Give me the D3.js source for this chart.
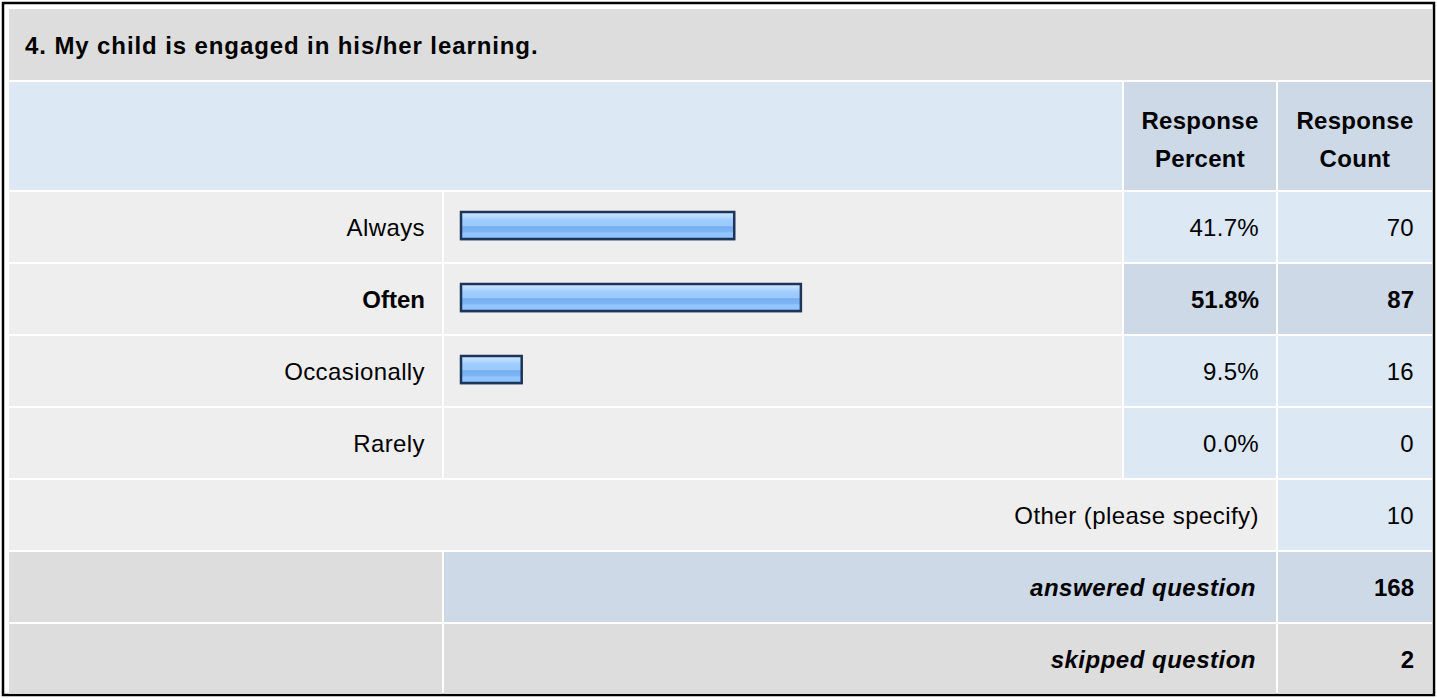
<!DOCTYPE html>
<html>
<head>
<meta charset="utf-8">
<script src="https://cdn.jsdelivr.net/npm/d3@7"></script>
<style>
  html, body { margin: 0; padding: 0; background: #ffffff; }
  svg { display: block; }
  text { font-family: "Liberation Sans", Arial, Helvetica, sans-serif; fill: #000; }
</style>
</head>
<body>
<div id="chart"></div>
<script>
// ---- data ----
const title = "4. My child is engaged in his/her learning.";
const headerPercent = ["Response", "Percent"];
const headerCount = ["Response", "Count"];
const categories = ["Always", "Often", "Occasionally", "Rarely"];
const percents = [41.7, 51.8, 9.5, 0.0];
const counts = [70, 87, 16, 0];
const highlighted = ["Often"];
const otherLabel = "Other (please specify)";
const otherCount = 10;
const answeredLabel = "answered question";
const answeredCount = 168;
const skippedLabel = "skipped question";
const skippedCount = 2;

// ---- layout ----
const W = 1437, H = 698;
const svg = d3.select("#chart").append("svg").attr("width", W).attr("height", H);

const colLabel = [9, 442], colBar = [444, 1122], colPct = [1124, 1276], colCnt = [1278, 1432];
const C_TITLE = "#dddddd", C_HEAD = "#dde8f5", C_HEAD2 = "#cdd9e6", C_ROW = "#eeeeee",
      C_CELL = "#dde8f5", C_CELL2 = "#cdd9e6", C_GREY = "#dddddd";

const rowKeys = categories.concat(["other", "answered", "skipped"]);
const y = d3.scaleBand().domain(rowKeys).range([192, 192 + rowKeys.length * 72 - 2]).paddingInner(2 / 72).paddingOuter(0);
const x = d3.scaleLinear().domain([0, 100]).range([0, 660]);

// gradient for bars
const defs = svg.append("defs");
const grad = defs.append("linearGradient").attr("id", "barGrad").attr("x1", 0).attr("y1", 0).attr("x2", 0).attr("y2", 1);
[[0, "#d2e8ff"], [0.18, "#b5d9ff"], [0.3, "#9fcdff"], [0.5, "#99c9ff"], [0.55, "#78aef0"], [0.72, "#7db5f5"], [0.78, "#92c6ff"], [1, "#8ec3ff"]]
  .forEach(([o, c]) => grad.append("stop").attr("offset", o).attr("stop-color", c));

function cell(x0, x1, y0, h, fill) {
  svg.append("rect").attr("x", x0).attr("y", y0).attr("width", x1 - x0).attr("height", h).attr("fill", fill);
}
function txt(s, xx, yy, anchor, opts = {}) {
  return svg.append("text").attr("x", xx).attr("y", yy).attr("text-anchor", anchor)
    .attr("font-size", opts.size || 24)
    .attr("font-weight", opts.bold ? "bold" : "normal")
    .attr("font-style", opts.italic ? "italic" : "normal")
    .style("letter-spacing", (opts.ls != null ? opts.ls : 0.45) + "px")
    .text(s);
}

// outer border
svg.append("rect").attr("x", 3).attr("y", 3).attr("width", 1431).attr("height", 692)
  .attr("fill", "#ffffff").attr("stroke", "#000").attr("stroke-width", 2.5);

// title row
cell(9, 1432, 9, 71, C_TITLE);
txt(title, 25, 54, "start", { bold: true, ls: 0.9 });

// header row
cell(colLabel[0], colBar[1], 82, 108, C_HEAD);
cell(colPct[0], colPct[1], 82, 108, C_HEAD2);
cell(colCnt[0], colCnt[1], 82, 108, C_HEAD2);
const pc = (colPct[0] + colPct[1]) / 2, cc = (colCnt[0] + colCnt[1]) / 2;
txt(headerPercent[0], pc, 129, "middle", { bold: true, ls: 0.3 });
txt(headerPercent[1], pc, 167, "middle", { bold: true, ls: 0.3 });
txt(headerCount[0], cc, 129, "middle", { bold: true, ls: 0.3 });
txt(headerCount[1], cc, 167, "middle", { bold: true, ls: 0.3 });

// data rows
const rows = categories.map((c, i) => ({ cat: c, pct: percents[i], cnt: counts[i], hi: highlighted.includes(c) }));
rows.forEach(r => {
  const y0 = y(r.cat), h = y.bandwidth();
  cell(colLabel[0], colLabel[1], y0, h, C_ROW);
  cell(colBar[0], colBar[1], y0, h, C_ROW);
  cell(colPct[0], colPct[1], y0, h, r.hi ? C_CELL2 : C_CELL);
  cell(colCnt[0], colCnt[1], y0, h, r.hi ? C_CELL2 : C_CELL);
  const ty = y0 + h / 2 + 9;
  txt(r.cat, 425, ty, "end", { bold: r.hi, ls: r.hi ? 0 : 0.4 });
  txt(r.pct.toFixed(1) + "%", 1259, ty, "end", { bold: r.hi, ls: r.hi ? 0 : 0.3 });
  txt(String(r.cnt), 1414, ty, "end", { bold: r.hi, ls: r.hi ? 0 : 0.3 });
});

// bars
const barG = svg.append("g");
rows.filter(r => r.pct > 0).forEach(r => {
  const y0 = y(r.cat) + 19, bw = x(r.pct);
  barG.append("rect").attr("x", 460).attr("y", y0 + 1).attr("width", bw).attr("height", 29)
    .attr("fill", "#8a96a8").attr("opacity", 0.5);
  barG.append("rect").attr("x", 461).attr("y", y0 + 1).attr("width", bw - 2).attr("height", 27)
    .attr("fill", "url(#barGrad)").attr("stroke", "#1c3558").attr("stroke-width", 2.5);
});

// other row
{
  const y0 = y("other"), h = y.bandwidth();
  cell(colLabel[0], colPct[1], y0, h, C_ROW);
  cell(colCnt[0], colCnt[1], y0, h, C_CELL);
  txt(otherLabel, 1259, y0 + h / 2 + 9, "end", {});
  txt(String(otherCount), 1414, y0 + h / 2 + 9, "end", { ls: 0.3 });
}
// answered row
{
  const y0 = y("answered"), h = y.bandwidth();
  cell(colLabel[0], colLabel[1], y0, h, C_GREY);
  cell(colBar[0], colPct[1], y0, h, C_CELL2);
  cell(colCnt[0], colCnt[1], y0, h, C_CELL2);
  txt(answeredLabel, 1256, y0 + h / 2 + 9, "end", { bold: true, italic: true, ls: 0.5 });
  txt(String(answeredCount), 1414, y0 + h / 2 + 9, "end", { bold: true, ls: 0 });
}
// skipped row
{
  const y0 = y("skipped"), h = y.bandwidth();
  cell(colLabel[0], colLabel[1], y0, h, C_GREY);
  cell(colBar[0], colPct[1], y0, h, C_GREY);
  cell(colCnt[0], colCnt[1], y0, h, C_GREY);
  txt(skippedLabel, 1256, y0 + h / 2 + 9, "end", { bold: true, italic: true, ls: 0.5 });
  txt(String(skippedCount), 1414, y0 + h / 2 + 9, "end", { bold: true, ls: 0 });
}
</script>
</body>
</html>
